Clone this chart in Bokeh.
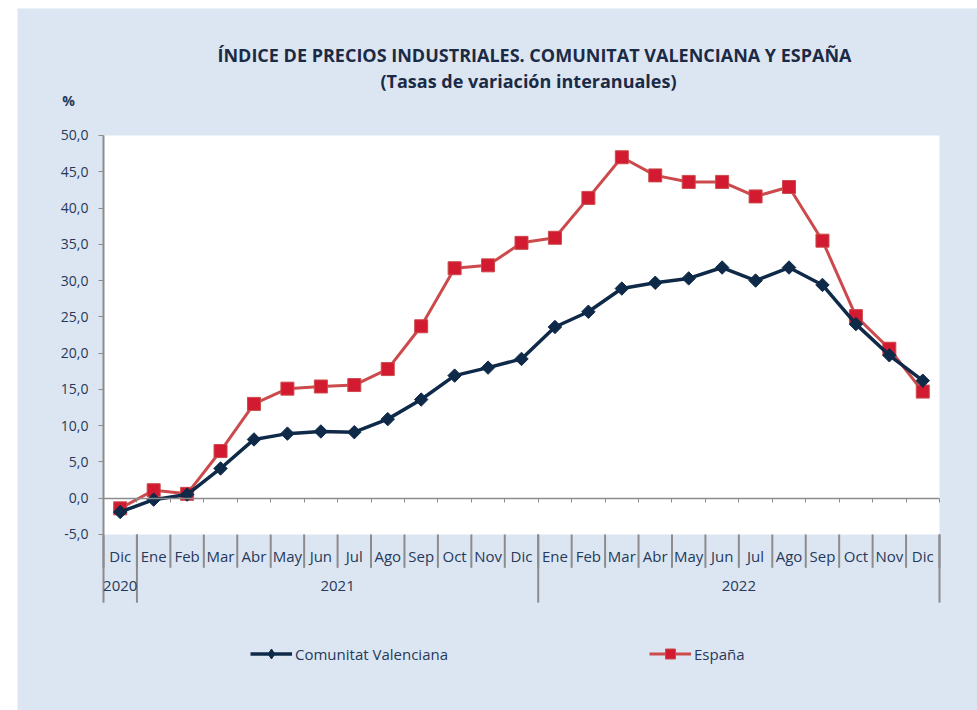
from bokeh.plotting import figure
from bokeh.models import (Range1d, LinearAxis, FixedTicker, Label, Legend, LegendItem,
                          CustomJSTickFormatter)
from bokeh.embed import file_html
from bokeh.resources import INLINE

# ---------------- data ----------------
months = ["Dic", "Ene", "Feb", "Mar", "Abr", "May", "Jun", "Jul", "Ago", "Sep", "Oct", "Nov", "Dic",
          "Ene", "Feb", "Mar", "Abr", "May", "Jun", "Jul", "Ago", "Sep", "Oct", "Nov", "Dic"]
point_years = ["2020"] + ["2021"] * 12 + ["2022"] * 12
years = ["2020", "2021", "2022"]
cv = [-1.9, -0.2, 0.5, 4.1, 8.1, 8.9, 9.2, 9.1, 10.9, 13.6, 16.9, 18.0, 19.2,
      23.6, 25.7, 28.9, 29.7, 30.3, 31.8, 30.0, 31.8, 29.4, 24.0, 19.7, 16.2]
es = [-1.4, 1.1, 0.6, 6.5, 13.0, 15.1, 15.4, 15.6, 17.8, 23.7, 31.7, 32.1, 35.2,
      35.9, 41.4, 47.0, 44.5, 43.6, 43.6, 41.6, 42.9, 35.5, 25.1, 20.6, 14.7]
y_ticks = [-5, 0, 5, 10, 15, 20, 25, 30, 35, 40, 45, 50]
y_tick_labels = ["-5,0", "0,0", "5,0", "10,0", "15,0", "20,0", "25,0", "30,0", "35,0", "40,0", "45,0", "50,0"]
title_text = "ÍNDICE DE PRECIOS INDUSTRIALES. COMUNITAT VALENCIANA Y ESPAÑA"
subtitle_text = "(Tasas de variación interanuales)"
unit_text = "%"
series_names = ["Comunitat Valenciana", "España"]

# ---------------- derived positions ----------------
n = len(months)
xs = [i + 0.5 for i in range(n)]
year_first = [point_years.index(y) for y in years]
year_last = [len(point_years) - 1 - point_years[::-1].index(y) for y in years]
year_centers = [(a + b + 1) / 2 for a, b in zip(year_first, year_last)]
year_bounds = sorted(set(year_first + [n]))

FONT = "Open Sans"
TXT = "#26395a"
TTL = "#1b2a45"
BG = "#dce6f2"
AX = "#8c8c8c"
Y_MIN, Y_MAX = -5.0, 50.0

# the frame covers the whole panel; the white plotting area spans x 0..n, y -5..50
p = figure(width=960, height=702, output_backend="svg", toolbar_location=None,
           x_range=Range1d(-2.5718, 26.1364), y_range=Range1d(-29.267, 67.507),
           min_border=0, title=None, x_axis_type=None, y_axis_type=None)
p.margin = (8, 0, 0, 17)
p.background_fill_color = BG
p.border_fill_color = BG
p.outline_line_color = None

p.quad(left=0, right=n, bottom=Y_MIN, top=Y_MAX, fill_color="white", line_color=None, level="image")

# grid
p.ygrid.ticker = FixedTicker(ticks=y_ticks)
p.ygrid.bounds = (0, n)
p.ygrid.grid_line_color = "#a3bbdb"
p.ygrid.grid_line_width = 1.5
p.xgrid.visible = False

# y axis
yax = LinearAxis(fixed_location=0, bounds=(Y_MIN, Y_MAX), ticker=FixedTicker(ticks=y_ticks),
                 major_label_overrides={t: l for t, l in zip(y_ticks, y_tick_labels)})
yax.axis_line_color = AX
yax.axis_line_width = 2
yax.major_tick_line_color = AX
yax.major_tick_out = 5
yax.major_tick_in = 0
yax.minor_tick_line_color = None
yax.major_label_standoff = 10
yax.major_label_text_font = FONT
yax.major_label_text_font_size = "14px"
yax.major_label_text_color = TXT
p.add_layout(yax, "left")

# zero line with category ticks
zax = LinearAxis(fixed_location=0, bounds=(0, n), ticker=FixedTicker(ticks=list(range(n + 1))),
                 formatter=CustomJSTickFormatter(code="return ''"))
zax.axis_line_color = AX
zax.axis_line_width = 1.5
zax.major_tick_line_color = AX
zax.major_tick_out = 4
zax.major_tick_in = 0
zax.minor_tick_line_color = None
p.add_layout(zax, "below")

# month labels
max_ = LinearAxis(fixed_location=Y_MIN, ticker=FixedTicker(ticks=xs),
                  major_label_overrides={x: m for x, m in zip(xs, months)})
max_.axis_line_color = None
max_.major_tick_line_color = None
max_.minor_tick_line_color = None
max_.major_tick_out = 0
max_.major_tick_in = 0
max_.major_label_standoff = 12
max_.major_label_text_font = FONT
max_.major_label_text_font_size = "15px"
max_.major_label_text_color = TXT
p.add_layout(max_, "below")

# year labels
yrax = LinearAxis(fixed_location=Y_MIN, ticker=FixedTicker(ticks=year_centers),
                  major_label_overrides={c: y for c, y in zip(year_centers, years)})
yrax.axis_line_color = None
yrax.major_tick_line_color = None
yrax.minor_tick_line_color = None
yrax.major_tick_out = 0
yrax.major_tick_in = 0
yrax.major_label_standoff = 47
yrax.major_label_text_font = FONT
yrax.major_label_text_font_size = "15px"
yrax.major_label_text_color = TXT
p.add_layout(yrax, "below")

# separators in the category label area
sep_x = list(range(n + 1))
p.segment(x0=sep_x, y0=[Y_MIN] * len(sep_x), x1=sep_x, y1=[-9.6] * len(sep_x),
          line_color=AX, line_width=2)
p.segment(x0=year_bounds, y0=[Y_MIN] * len(year_bounds), x1=year_bounds, y1=[-14.4] * len(year_bounds),
          line_color=AX, line_width=2)

# series
NAVY = "#0e2a48"
RED_L = "#cc4a4c"
RED_M = "#d21a30"
# diamond key symbol for the legend (its single point sits hidden under the first CV marker)
cv_key = p.scatter(x=xs[:1], y=cv[:1], marker="diamond", size=11, fill_color=NAVY, line_color=NAVY)
es_line = p.line(xs, es, line_color=RED_L, line_width=3)
es_pts = p.scatter(xs, es, marker="square", size=13, fill_color=RED_M, line_color=RED_L, line_width=1)
cv_line = p.line(xs, cv, line_color=NAVY, line_width=3.5)
cv_pts = p.scatter(xs, cv, marker="square", angle=0.785398, size=9.5, fill_color=NAVY, line_color=NAVY)

for name, rends, loc in [(series_names[0], [cv_line, cv_key], (233, 44)),
                         (series_names[1], [es_line, es_pts], (632, 44))]:
    lg = Legend(items=[LegendItem(label=name, renderers=rends)], location=loc,
                orientation="horizontal", padding=0, margin=0, spacing=0,
                glyph_width=42, glyph_height=25, label_standoff=3,
                background_fill_alpha=0, border_line_color=None,
                label_text_font=FONT, label_text_font_size="15px", label_text_color=TXT)
    p.add_layout(lg, "center")

# titles
for txt, x, y, size, col in [(title_text, 12.889, 61.03, "18px", TTL),
                              (subtitle_text, 12.709, 57.58, "18px", TTL),
                              (unit_text, -1.047, 54.82, "14px", TXT)]:
    p.add_layout(Label(x=x, y=y, text=txt, text_align="center", text_baseline="middle",
                       text_font=FONT, text_font_size=size, text_font_style="bold", text_color=col))

open("out.html", "w").write(file_html(p, INLINE))
